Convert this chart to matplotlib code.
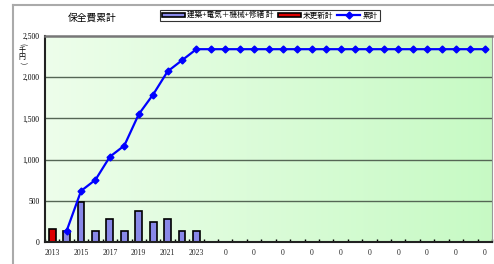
import numpy as np
import matplotlib
matplotlib.use('Agg')
import matplotlib.pyplot as plt
from matplotlib.lines import Line2D

plt.rcParams['font.family'] = ['Noto Sans CJK JP', 'DejaVu Sans']

# categories: 2013..2023 then empty years shown as "0"
years = ['2013', '2014', '2015', '2016', '2017', '2018', '2019', '2020', '2021', '2022', '2023'] + ['0'] * 20
repair = [0, 135, 485, 135, 280, 135, 380, 240, 280, 135, 135] + [0] * 20
not_updated = [155, 0, 0, 0, 0, 0, 0, 0, 0, 0, 0] + [0] * 20
cumulative = [np.nan, 135, 620, 755, 1035, 1170, 1550, 1790, 2070, 2205, 2340,
              2340, 2340, 2340, 2340, 2340, 2340, 2340, 2340, 2340, 2340,
              2340, 2340, 2340, 2340, 2340, 2340, 2340, 2340, 2340, 2340]

labels = ['建築+電気＋機械+修繕 計', '未更新計', '累計']

fig = plt.figure(figsize=(4.94, 2.64), dpi=100)
ax = fig.add_axes([45/494, 22/264, 447/494, 206/264])

x = np.arange(len(years))
n = len(years)

# gradient background
grad = np.linspace(0, 1, 256).reshape(1, -1)
c0 = np.array([0.93, 0.995, 0.92])
c1 = np.array([0.78, 0.98, 0.77])
img = c0[None, None, :] * (1 - grad[..., None]) + c1[None, None, :] * grad[..., None]
ax.imshow(img, extent=[-0.5, n - 0.5, 0, 2500], aspect='auto', zorder=0)

for yv in [500, 1000, 1500, 2000]:
    ax.axhline(yv, color='#556655', lw=1.0, zorder=1)

b1 = ax.bar(x, repair, width=0.47, color='#8888e8', edgecolor='black', lw=1.2, zorder=2)
b2 = ax.bar(x, not_updated, width=0.47, color='#dd0000', edgecolor='black', lw=1.2, zorder=2)
l1, = ax.plot(x, cumulative, color='#0000ff', lw=1.6, marker='D', ms=3.5, zorder=3)

ax.set_xlim(-0.5, n - 0.5)
ax.set_ylim(0, 2500)
ax.set_yticks([0, 500, 1000, 1500, 2000, 2500])
ax.set_yticklabels(['0', '500', '1,000', '1,500', '2,000', '2,500'],
                   fontsize=5.5, family='Liberation Serif')
ax.tick_params(axis='y', length=0, pad=4)

ax.set_xticks(x[::2])
ax.set_xticklabels(years[::2], fontsize=5.5, family='Liberation Serif', color='#222222')
ax.tick_params(axis='x', length=0, pad=5)
ax.set_xticks(np.arange(n + 1) - 0.5, minor=True)
ax.tick_params(axis='x', which='minor', direction='in', length=2.5, width=1, color='black')

for s in ['left', 'bottom']:
    ax.spines[s].set_color('#222222')
    ax.spines[s].set_linewidth(1.5)
ax.spines['top'].set_color('#777777')
ax.spines['top'].set_linewidth(1.8)
ax.spines['right'].set_color('#999999')
ax.spines['right'].set_linewidth(0.8)

# outer chart frame
fig.add_artist(Line2D([13/494, 1], [1 - 5/264, 1 - 5/264], color='#aaaaaa', lw=1.5,
                      transform=fig.transFigure))
fig.add_artist(Line2D([13/494, 13/494], [0, 1 - 5/264], color='#aaaaaa', lw=1.5,
                      transform=fig.transFigure))

fig.text(92/494, 1 - 18/264, '保全費累計', fontsize=7, ha='center', va='center')

# vertical unit label (千円)
fig.text(22/494, 1 - 44/264, '(', fontsize=5, rotation=-90, ha='center', va='center')
fig.text(22/494, 1 - 50/264, '千', fontsize=5, ha='center', va='center')
fig.text(22/494, 1 - 57/264, '円', fontsize=5, ha='center', va='center')
fig.text(22/494, 1 - 63/264, ')', fontsize=5, rotation=-90, ha='center', va='center')

leg = fig.legend([b1, b2, l1], labels, loc='center', bbox_to_anchor=(270/494, 1 - 15.5/264),
                 ncol=3, fontsize=5.5, frameon=True, fancybox=False, handlelength=3.0,
                 handleheight=0.5, handletextpad=0.3, columnspacing=0.5,
                 borderpad=0.25, borderaxespad=0)
leg.get_frame().set_edgecolor('black')
leg.get_frame().set_linewidth(0.8)

fig.savefig('out.png', dpi=100)
